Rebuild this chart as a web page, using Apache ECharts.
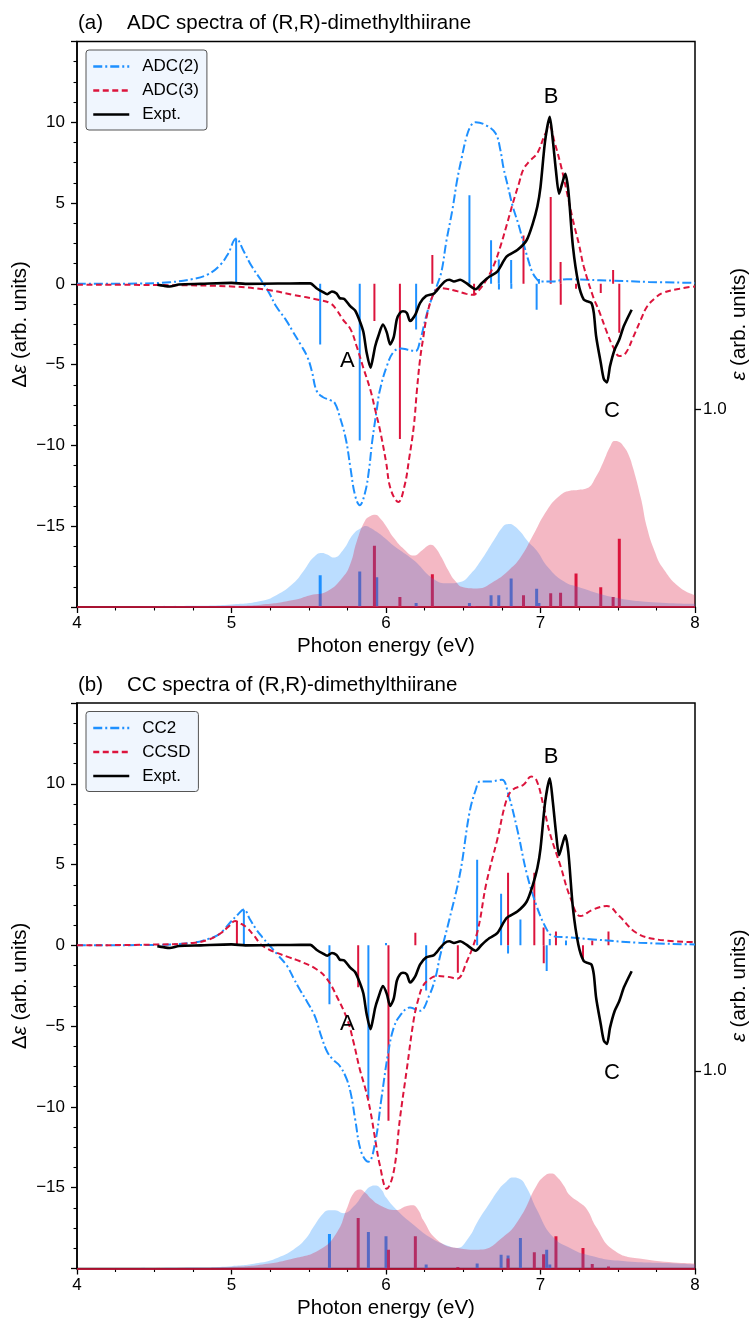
<!DOCTYPE html>
<html><head><meta charset="utf-8">
<script src="https://cdn.jsdelivr.net/npm/echarts@6.0.0/dist/echarts.min.js"></script>
<style>html,body{margin:0;padding:0;background:#fff}#c{width:754px;height:1319px}</style>
</head><body><div id="c"></div>
<script>
// ---------- Panel (a): ADC ----------
const adc2CD = [[4.0,0],[4.4,0.02],[4.6,0.1],[4.75,0.3],[4.85,0.6],[4.93,1.2],[4.98,1.9],[5.03,2.8],[5.08,2.0],[5.13,1.1],[5.19,0.25],[5.24,-0.5],[5.29,-1.4],[5.35,-2.2],[5.40,-3.0],[5.45,-3.8],[5.49,-4.5],[5.52,-5.4],[5.55,-6.6],[5.59,-7.0],[5.64,-7.2],[5.67,-7.4],[5.70,-8.2],[5.74,-9.6],[5.77,-11.4],[5.80,-13.1],[5.83,-13.7],[5.865,-12.9],[5.89,-11.5],[5.91,-9.8],[5.94,-7.8],[5.96,-6.6],[6.005,-5.1],[6.05,-4.2],[6.10,-4.0],[6.135,-4.06],[6.19,-4.16],[6.22,-3.55],[6.26,-2.0],[6.30,-0.78],[6.33,-0.1],[6.36,0.8],[6.39,2.6],[6.43,4.6],[6.46,6.4],[6.49,7.8],[6.52,9.06],[6.55,9.8],[6.58,10.0],[6.65,9.8],[6.71,9.3],[6.74,8.3],[6.76,7.2],[6.79,6.0],[6.82,4.8],[6.86,3.6],[6.89,2.5],[6.92,1.5],[6.95,0.66],[6.98,0.25],[7.0,0.15],[7.08,0.15],[7.17,0.29],[7.3,0.25],[7.47,0.2],[7.7,0.12],[8.0,0.06]];
const adc3CD = [[4.0,-0.05],[4.6,-0.08],[5.0,-0.16],[5.23,-0.37],[5.40,-0.68],[5.57,-1.0],[5.64,-1.2],[5.68,-1.6],[5.72,-2.2],[5.77,-2.8],[5.81,-3.86],[5.85,-5.1],[5.90,-6.6],[5.93,-7.8],[5.96,-9.0],[6.0,-11.0],[6.03,-12.7],[6.08,-13.5],[6.12,-12.5],[6.15,-10.8],[6.18,-8.8],[6.20,-6.6],[6.22,-4.7],[6.24,-3.4],[6.26,-2.2],[6.285,-1.2],[6.31,-0.6],[6.34,-0.27],[6.39,-0.3],[6.46,-0.45],[6.52,-0.62],[6.565,-0.68],[6.6,-0.4],[6.65,0.25],[6.70,1.2],[6.74,2.3],[6.78,3.6],[6.82,4.96],[6.86,6.2],[6.89,7.1],[6.93,7.6],[6.98,8.1],[7.03,9.27],[7.06,9.7],[7.09,8.8],[7.13,7.4],[7.17,5.7],[7.21,3.94],[7.25,2.4],[7.28,1.07],[7.34,-0.78],[7.38,-1.7],[7.43,-3.0],[7.47,-3.9],[7.51,-4.47],[7.55,-4.3],[7.6,-3.3],[7.65,-2.2],[7.69,-1.4],[7.74,-0.9],[7.79,-0.57],[7.9,-0.3],[8.0,-0.16]];
const adc2CDSticks = [[5.03,2.8],[5.574,-3.75],[5.83,-9.7],[6.195,-2.83],[6.54,5.48],[6.68,2.7],[6.73,1.5],[6.731,-0.35],[6.81,1.47],[6.811,-0.3],[6.975,-1.6],[6.99,0.3]];
const adc3CDSticks = [[5.925,-2.3],[6.09,-9.6],[6.30,1.78],[6.57,-0.7],[6.89,3.0],[7.066,5.37],[7.13,1.35],[7.131,-1.3],[7.23,-0.3],[7.39,-0.57],[7.47,0.86],[7.51,-3.03]];
const adc2Abs = [[4.0,0.0],[4.5,0.004],[4.75,0.006],[5.0,0.013],[5.19,0.03],[5.29,0.06],[5.40,0.12],[5.47,0.186],[5.53,0.25],[5.585,0.273],[5.62,0.265],[5.66,0.25],[5.72,0.286],[5.79,0.37],[5.84,0.40],[5.87,0.41],[5.90,0.40],[5.94,0.38],[5.99,0.35],[6.05,0.31],[6.18,0.236],[6.31,0.14],[6.40,0.12],[6.48,0.127],[6.55,0.17],[6.61,0.23],[6.70,0.34],[6.75,0.40],[6.78,0.418],[6.80,0.42],[6.83,0.41],[6.87,0.38],[6.92,0.33],[6.975,0.286],[7.05,0.2],[7.15,0.13],[7.25,0.10],[7.47,0.05],[7.7,0.025],[8.0,0.016]];
const adc3Abs = [[4.0,0],[4.75,0.003],[5.0,0.006],[5.19,0.012],[5.4,0.035],[5.51,0.06],[5.62,0.08],[5.72,0.15],[5.77,0.22],[5.81,0.33],[5.865,0.437],[5.90,0.46],[5.93,0.466],[5.96,0.45],[6.0,0.41],[6.05,0.35],[6.12,0.29],[6.18,0.26],[6.23,0.285],[6.27,0.31],[6.29,0.315],[6.32,0.30],[6.36,0.25],[6.40,0.19],[6.45,0.13],[6.50,0.10],[6.59,0.094],[6.7,0.13],[6.8,0.19],[6.87,0.25],[6.95,0.36],[7.04,0.487],[7.12,0.56],[7.19,0.588],[7.24,0.592],[7.30,0.60],[7.36,0.66],[7.41,0.74],[7.45,0.81],[7.48,0.84],[7.51,0.835],[7.54,0.81],[7.57,0.77],[7.60,0.70],[7.65,0.55],[7.69,0.40],[7.74,0.28],[7.79,0.20],[7.9,0.10],[8.0,0.06]];
const adc2AbsSticks = [[5.574,0.16],[5.83,0.18],[5.94,0.15],[6.195,0.02],[6.54,0.02],[6.68,0.06],[6.73,0.06],[6.81,0.144],[6.975,0.092],[6.99,0.02]];
const adc3AbsSticks = [[5.925,0.31],[6.09,0.05],[6.30,0.166],[6.57,0.005],[6.89,0.06],[7.066,0.069],[7.13,0.072],[7.23,0.17],[7.39,0.10],[7.47,0.05],[7.51,0.345]];

// ---------- Panel (b): CC ----------
const cc2CD = [[4.0,0],[4.5,0.03],[4.75,0.16],[4.85,0.4],[4.905,0.6],[4.95,0.95],[4.99,1.4],[5.04,1.9],[5.08,2.22],[5.12,1.6],[5.16,0.99],[5.2,0.5],[5.24,0.06],[5.3,-0.6],[5.36,-1.28],[5.40,-2.0],[5.44,-2.7],[5.49,-3.5],[5.54,-4.4],[5.58,-5.6],[5.62,-6.6],[5.66,-7.1],[5.70,-7.45],[5.745,-8.27],[5.775,-9.3],[5.80,-10.74],[5.84,-12.8],[5.886,-13.4],[5.93,-12.2],[5.97,-9.5],[6.015,-6.6],[6.05,-5.1],[6.09,-4.36],[6.155,-3.85],[6.22,-4.05],[6.28,-3.1],[6.32,-2.0],[6.35,-0.66],[6.41,1.6],[6.48,4.49],[6.54,8.19],[6.58,9.6],[6.61,10.14],[6.67,10.14],[6.75,10.25],[6.79,9.4],[6.85,7.16],[6.91,4.49],[6.975,2.43],[7.04,0.99],[7.08,0.57],[7.17,0.5],[7.34,0.37],[7.64,0.16],[8.0,0.06]];
const ccsdCD = [[4.0,0],[4.5,0.05],[4.75,0.15],[4.85,0.35],[4.93,0.75],[4.98,1.15],[5.024,1.5],[5.06,1.35],[5.10,1.09],[5.15,0.55],[5.19,0.06],[5.24,-0.25],[5.29,-0.45],[5.36,-0.7],[5.44,-0.97],[5.55,-1.48],[5.62,-2.1],[5.68,-3.13],[5.75,-4.6],[5.79,-6.0],[5.83,-7.65],[5.87,-9.0],[5.90,-10.3],[5.93,-12.0],[5.96,-13.6],[6.005,-15.06],[6.05,-14.0],[6.09,-10.74],[6.135,-7.65],[6.18,-4.57],[6.21,-3.3],[6.24,-2.5],[6.28,-2.1],[6.33,-1.9],[6.40,-1.95],[6.46,-2.06],[6.52,-1.07],[6.59,0.78],[6.65,3.87],[6.72,6.54],[6.78,9.0],[6.82,9.63],[6.89,9.94],[6.94,10.45],[6.975,10.2],[7.02,8.6],[7.06,6.96],[7.13,4.9],[7.19,3.04],[7.26,1.81],[7.34,2.22],[7.43,2.43],[7.51,1.81],[7.62,0.78],[7.75,0.37],[8.0,0.2]];
const cc2CDSticks = [[5.08,2.2],[5.634,-3.64],[5.886,-9.5],[6.0,0.15],[6.26,-2.8],[6.59,5.3],[6.745,3.2],[6.79,-0.5],[6.87,1.6],[7.04,-1.58],[7.06,0.4],[7.165,0.3]];
const ccsdCDSticks = [[5.035,1.5],[5.82,-2.6],[6.016,-10.85],[6.19,0.78],[6.465,-1.7],[6.79,4.49],[6.96,4.49],[7.02,1.1],[7.021,-1.1],[7.10,0.86],[7.275,-0.86],[7.335,0.3],[7.44,0.86]];
const cc2Abs = [[4.0,0],[4.75,0.005],[5.0,0.012],[5.19,0.03],[5.30,0.055],[5.40,0.095],[5.48,0.15],[5.53,0.21],[5.595,0.28],[5.63,0.295],[5.67,0.295],[5.725,0.28],[5.79,0.313],[5.865,0.39],[5.90,0.415],[5.93,0.42],[5.97,0.40],[6.0,0.36],[6.065,0.30],[6.18,0.22],[6.3,0.15],[6.40,0.115],[6.46,0.104],[6.53,0.15],[6.60,0.246],[6.67,0.33],[6.73,0.40],[6.78,0.44],[6.82,0.46],[6.86,0.455],[6.91,0.41],[6.975,0.30],[7.08,0.16],[7.2,0.1],[7.30,0.07],[7.5,0.04],[7.88,0.025],[8.0,0.02]];
const ccsdAbs = [[4.0,0],[4.75,0.004],[5.0,0.008],[5.2,0.02],[5.40,0.05],[5.57,0.095],[5.68,0.18],[5.75,0.31],[5.79,0.38],[5.83,0.40],[5.87,0.38],[5.90,0.355],[5.96,0.32],[6.065,0.296],[6.13,0.315],[6.17,0.32],[6.21,0.295],[6.24,0.246],[6.33,0.146],[6.46,0.104],[6.60,0.095],[6.76,0.16],[6.87,0.26],[6.975,0.42],[7.03,0.47],[7.07,0.48],[7.11,0.46],[7.15,0.42],[7.19,0.37],[7.25,0.335],[7.30,0.30],[7.36,0.21],[7.47,0.095],[7.64,0.05],[8.0,0.025]];
const cc2AbsSticks = [[5.634,0.174],[5.886,0.184],[6.0,0.163],[6.26,0.02],[6.59,0.025],[6.745,0.069],[6.79,0.066],[6.87,0.154],[7.04,0.095],[7.06,0.02]];
const ccsdAbsSticks = [[5.82,0.255],[6.016,0.095],[6.19,0.163],[6.465,0.008],[6.79,0.05],[6.96,0.082],[7.02,0.072],[7.10,0.163],[7.275,0.104],[7.335,0.023],[7.44,0.01]];

// ---------- Experiment (both panels) ----------
const expt = [[4.52,-0.06],[4.56,-0.12],[4.60,-0.16],[4.66,-0.04],[4.8,0.0],[5.0,0.06],[5.09,0.0],[5.3,0.02],[5.45,0.03],[5.51,0.03],[5.55,-0.27],[5.59,-0.5],[5.62,-0.64],[5.65,-0.47],[5.68,-0.6],[5.70,-0.88],[5.73,-0.94],[5.77,-1.4],[5.80,-1.65],[5.83,-2.3],[5.854,-3.0],[5.875,-4.27],[5.90,-5.19],[5.915,-4.6],[5.93,-3.86],[5.95,-3.24],[5.98,-2.52],[6.005,-3.0],[6.027,-3.75],[6.05,-3.3],[6.07,-2.2],[6.09,-1.8],[6.11,-1.7],[6.135,-1.8],[6.156,-2.3],[6.19,-1.9],[6.22,-1.19],[6.26,-0.74],[6.31,-0.6],[6.35,-0.16],[6.38,0.15],[6.41,0.25],[6.44,0.15],[6.48,0.25],[6.52,0.04],[6.58,-0.33],[6.62,0.04],[6.67,0.45],[6.72,0.76],[6.78,1.68],[6.85,2.09],[6.91,2.7],[6.95,3.73],[6.98,4.8],[7.0,5.99],[7.03,8.86],[7.06,10.34],[7.08,8.86],[7.1,7.0],[7.12,5.58],[7.14,6.2],[7.16,6.81],[7.18,5.78],[7.21,2.3],[7.245,0.04],[7.28,-0.98],[7.31,-1.1],[7.33,-1.19],[7.345,-1.8],[7.36,-3.24],[7.39,-4.88],[7.41,-5.9],[7.43,-6.1],[7.45,-5.09],[7.48,-4.06],[7.51,-3.45],[7.54,-2.6],[7.59,-1.6]];

// ---------- Labels ----------
const xTicks = [4, 5, 6, 7, 8];
const annotA = [[5.75,-4.8,'A'],[7.068,11.57,'B'],[7.463,-7.88,'C']];
const annotB = [[5.75,-4.88,'A'],[7.068,11.67,'B'],[7.463,-7.9,'C']];
const panelTitles = [['(a)','ADC spectra of (R,R)-dimethylthiirane'],['(b)','CC spectra of (R,R)-dimethylthiirane']];
const legendNames = [['ADC(2)','ADC(3)','Expt.'],['CC2','CCSD','Expt.']];

const BLUE = '#1E90FF', RED = '#DC143C';
const FONT = "'Liberation Sans', Arial, Helvetica, sans-serif";
const GRID_TOP = [41.5, 703];
const GRID_H = 565.5;

function stickRender(color, width) {
  return function (params, api) {
    const p0 = api.coord([api.value(0), 0]);
    const p1 = api.coord([api.value(0), api.value(1)]);
    return {type: 'line', shape: {x1: p0[0], y1: p0[1], x2: p1[0], y2: p1[1]},
      style: {stroke: color, lineWidth: width}};
  };
}
function textRender(list) {
  return function (params, api) {
    const p = api.coord([api.value(0), api.value(1)]);
    return {type: 'text', x: p[0], y: p[1],
      style: {text: list[params.dataIndex][2], fill: '#000', font: '22px ' + FONT,
        align: 'center', verticalAlign: 'middle'}};
  };
}
function fmtMinus(v) { return v < 0 ? '\u2212' + (-v) : String(v); }

const grids = [], xAxes = [], yAxes = [], series = [], legends = [], graphics = [];
const panels = [
  {cd2: adc2CD, cd3: adc3CD, s2: adc2CDSticks, s3: adc3CDSticks, a2: adc2Abs, a3: adc3Abs, as2: adc2AbsSticks, as3: adc3AbsSticks, ann: annotA},
  {cd2: cc2CD, cd3: ccsdCD, s2: cc2CDSticks, s3: ccsdCDSticks, a2: cc2Abs, a3: ccsdAbs, as2: cc2AbsSticks, as3: ccsdAbsSticks, ann: annotB}
];

panels.forEach((P, g) => {
  grids.push({left: 77, width: 618, top: GRID_TOP[g], height: GRID_H, show: true,
    outerBoundsMode: 'none', containLabel: false,
    borderColor: '#000', borderWidth: 1.5, backgroundColor: 'transparent'});
  xAxes.push({type: 'value', gridIndex: g, min: xTicks[0], max: xTicks[xTicks.length - 1], interval: 1,
    axisLine: {show: true, onZero: false, lineStyle: {color: '#000', width: 1.5}},
    axisTick: {show: true, length: 6, lineStyle: {color: '#000', width: 1.3}},
    minorTick: {show: true, splitNumber: 4, length: 3.5, lineStyle: {color: '#000', width: 1.1}},
    splitLine: {show: false}, minorSplitLine: {show: false},
    axisLabel: {fontSize: 17, color: '#000', margin: 8, fontFamily: FONT},
    name: 'Photon energy (eV)', nameLocation: 'middle', nameGap: 29, nameMoveOverlap: false,
    nameTextStyle: {fontSize: 20.5, color: '#000', fontFamily: FONT}});
  yAxes.push({type: 'value', gridIndex: g, min: -20, max: 15, interval: 5,
    axisLine: {show: true, onZero: false, lineStyle: {color: '#000', width: 1.5}},
    axisTick: {show: true, length: 6, lineStyle: {color: '#000', width: 1.3}},
    minorTick: {show: true, splitNumber: 4, length: 3.5, lineStyle: {color: '#000', width: 1.1}},
    splitLine: {show: false}, minorSplitLine: {show: false},
    axisLabel: {fontSize: 17, color: '#000', margin: 12, fontFamily: FONT,
      formatter: v => (v === -20 || v === 15) ? '' : fmtMinus(v)},
    name: '{d|\u0394}{e|\u03b5}{d| (arb. units)}', nameLocation: 'middle', nameGap: 46, nameRotate: 90,
    nameMoveOverlap: false,
    nameTextStyle: {rich: {d: {fontSize: 20.5, color: '#000', fontFamily: FONT},
      e: {fontSize: 20.5, color: '#000', fontStyle: 'italic', fontFamily: FONT}}}});
  yAxes.push({type: 'value', gridIndex: g, position: 'right', min: 0, max: 2.86,
    axisLine: {show: false, onZero: false},
    axisTick: {show: true, customValues: [1], length: 6, lineStyle: {color: '#000', width: 1.3}},
    splitLine: {show: false},
    axisLabel: {customValues: [1], fontSize: 17, color: '#000', margin: 8, fontFamily: FONT,
      formatter: v => Number(v).toFixed(1)},
    name: '{e|\u03b5}{d| (arb. units)}', nameLocation: 'middle', nameGap: 34, nameRotate: 90,
    nameMoveOverlap: false,
    nameTextStyle: {rich: {d: {fontSize: 20.5, color: '#000', fontFamily: FONT},
      e: {fontSize: 20.5, color: '#000', fontStyle: 'italic', fontFamily: FONT}}}});
  const yL = 2 * g, yR = 2 * g + 1;
  const names = legendNames[g];
  // absorption sticks (behind fills)
  series.push({type: 'custom', name: 'abs2s' + g, xAxisIndex: g, yAxisIndex: yR, z: 1, clip: true,
    renderItem: stickRender(BLUE, 3), data: P.as2, encode: {x: 0, y: 1}, silent: true});
  series.push({type: 'custom', name: 'abs3s' + g, xAxisIndex: g, yAxisIndex: yR, z: 1, clip: true,
    renderItem: stickRender(RED, 3), data: P.as3, encode: {x: 0, y: 1}, silent: true});
  // absorption fills
  series.push({type: 'line', name: 'abs2f' + g, xAxisIndex: g, yAxisIndex: yR, z: 2, data: P.a2,
    smooth: 0.5, symbol: 'none', silent: true,
    lineStyle: {width: 0, color: BLUE}, itemStyle: {color: BLUE}, areaStyle: {color: BLUE, opacity: 0.3}});
  series.push({type: 'line', name: 'abs3f' + g, xAxisIndex: g, yAxisIndex: yR, z: 2, data: P.a3,
    smooth: 0.5, symbol: 'none', silent: true,
    lineStyle: {width: 0, color: RED}, itemStyle: {color: RED}, areaStyle: {color: RED, opacity: 0.3},
    markLine: {silent: true, symbol: ['none', 'none'], label: {show: false},
      lineStyle: {color: RED, width: 1.5, type: 'solid'}, data: [{yAxis: 0}]}});
  // CD sticks
  series.push({type: 'custom', name: 'cd2s' + g, xAxisIndex: g, yAxisIndex: yL, z: 3, clip: true,
    renderItem: stickRender(BLUE, 2), data: P.s2, encode: {x: 0, y: 1}, silent: true});
  series.push({type: 'custom', name: 'cd3s' + g, xAxisIndex: g, yAxisIndex: yL, z: 3, clip: true,
    renderItem: stickRender(RED, 2), data: P.s3, encode: {x: 0, y: 1}, silent: true});
  // CD curves
  series.push({type: 'line', name: names[0], xAxisIndex: g, yAxisIndex: yL, z: 4, data: P.cd2,
    smooth: 0.4, symbol: 'none',
    lineStyle: {color: BLUE, width: 2, type: [9, 3, 2, 3]}, itemStyle: {color: BLUE}});
  series.push({type: 'line', name: names[1], xAxisIndex: g, yAxisIndex: yL, z: 4, data: P.cd3,
    smooth: 0.4, symbol: 'none',
    lineStyle: {color: RED, width: 2, type: [6, 3.5]}, itemStyle: {color: RED}});
  series.push({type: 'line', name: names[2], xAxisIndex: g, yAxisIndex: yL, z: 5, data: expt,
    smooth: 0.25, symbol: 'none',
    lineStyle: {color: '#000', width: 2.6}, itemStyle: {color: '#000'}});
  // peak annotations
  series.push({type: 'custom', name: 'ann' + g, xAxisIndex: g, yAxisIndex: yL, z: 6, clip: false,
    data: P.ann.map(d => [d[0], d[1]]), encode: {x: 0, y: 1}, silent: true,
    renderItem: textRender(P.ann)});
  legends.push({data: names, orient: 'vertical', left: 86, top: GRID_TOP[g] + 8.5,
    itemWidth: 36, itemHeight: 14, itemGap: 7, padding: [8, 8, 7, 6],
    backgroundColor: '#f0f6fe', borderColor: '#555', borderWidth: 1, borderRadius: 3,
    itemStyle: {opacity: 0}, lineStyle: {width: 2.5},
    textStyle: {fontSize: 17, color: '#000', fontFamily: FONT, padding: [0, 0, 0, 8]},
    selectedMode: false});
  graphics.push({type: 'text', x: 78, y: GRID_TOP[g] - 18,
    style: {text: panelTitles[g][0], font: '20.5px ' + FONT, fill: '#000', verticalAlign: 'middle'}});
  graphics.push({type: 'text', x: 127, y: GRID_TOP[g] - 18,
    style: {text: panelTitles[g][1], font: '20.5px ' + FONT, fill: '#000', verticalAlign: 'middle'}});
});

const chart = echarts.init(document.getElementById('c'), null, {renderer: 'canvas'});
chart.setOption({
  animation: false,
  backgroundColor: '#fff',
  textStyle: {fontFamily: FONT},
  grid: grids, xAxis: xAxes, yAxis: yAxes, series: series, legend: legends, graphic: graphics
});
</script>
</body></html>
